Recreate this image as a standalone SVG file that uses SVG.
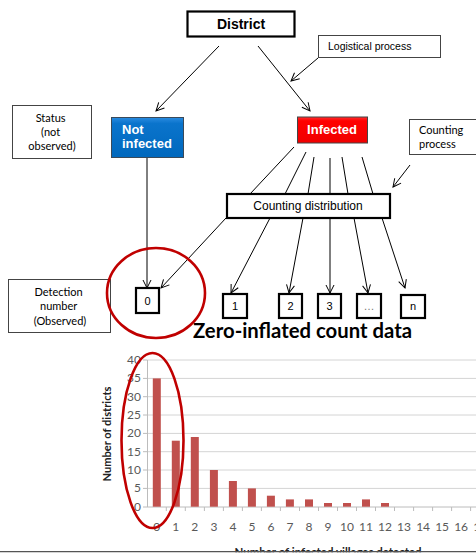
<svg xmlns="http://www.w3.org/2000/svg" width="476" height="553" viewBox="0 0 476 553">
  <style>
    .box { fill: #fff; stroke: #000; stroke-width: 2.2; }
    .note { fill: #fff; stroke: #444; stroke-width: 1; }
    .sans { font-family: "Liberation Sans", Arial, sans-serif; }
    .cal { font-family: Lato, "Liberation Sans", sans-serif; }
    .lbl { font-size: 11px; fill: #000; }
    .link { stroke: #000; stroke-width: 1; fill: none; }
    .grid { stroke: #d4d4d4; stroke-width: 1; }
    .axis { stroke: #bcbcbc; stroke-width: 1; }
    .bar { fill: #c0504d; }
    .tick { font-size: 12px; fill: #595959; }
    .ring { fill: none; stroke: #c00000; stroke-width: 2.6; }
  </style>
  <defs>
    <marker id="open" markerUnits="userSpaceOnUse" markerWidth="10" markerHeight="10" refX="9" refY="5" orient="auto">
      <path d="M1,1 L9,5 L1,9" fill="none" stroke="#000" stroke-width="1"/>
    </marker>
    <linearGradient id="blueFill" x1="0" y1="0" x2="0" y2="1">
      <stop offset="0" stop-color="#2a8be0"/>
      <stop offset="0.15" stop-color="#0a74cc"/>
      <stop offset="1" stop-color="#0068bd"/>
    </linearGradient>
    <linearGradient id="redFill" x1="0" y1="0" x2="0" y2="1">
      <stop offset="0" stop-color="#ff3030"/>
      <stop offset="0.15" stop-color="#ff0000"/>
      <stop offset="1" stop-color="#f00000"/>
    </linearGradient>
  </defs>

  <rect width="476" height="553" fill="#fff"/>

  <!-- connectors -->
  <g id="connectors">
    <line class="link" x1="219" y1="46" x2="156" y2="111" marker-end="url(#open)"/>
    <line class="link" x1="258" y1="46" x2="310" y2="111" marker-end="url(#open)"/>
    <line class="link" x1="318" y1="58" x2="291" y2="81" marker-end="url(#open)"/>
    <line class="link" x1="147" y1="150" x2="147" y2="288" marker-end="url(#open)"/>
    <!-- fan from Infected into the counting distribution -->
    <line class="link" x1="294" y1="147" x2="250" y2="194"/>
    <line class="link" x1="306" y1="152" x2="285" y2="194"/>
    <line class="link" x1="314" y1="157" x2="308" y2="194"/>
    <line class="link" x1="330" y1="158" x2="330" y2="194" stroke="#555"/>
    <line class="link" x1="342" y1="157" x2="348" y2="194"/>
    <line class="link" x1="362" y1="157" x2="373" y2="194"/>
    <line class="link" x1="410" y1="165" x2="393" y2="187" marker-end="url(#open)"/>
    <!-- counting distribution outcomes -->
    <line class="link" x1="226" y1="218" x2="161" y2="288" marker-end="url(#open)"/>
    <line class="link" x1="270" y1="218" x2="231" y2="293" marker-end="url(#open)"/>
    <line class="link" x1="303" y1="218" x2="289" y2="293" marker-end="url(#open)"/>
    <line class="link" x1="330" y1="218" x2="330" y2="293" stroke="#555" marker-end="url(#open)"/>
    <line class="link" x1="354" y1="218" x2="368" y2="293" marker-end="url(#open)"/>
    <line class="link" x1="382" y1="218" x2="405" y2="288" marker-end="url(#open)"/>
  </g>

  <g id="district">
    <rect class="box" x="187.5" y="11.5" width="107" height="25" stroke-width="2.6"/>
    <text class="sans" x="241" y="29" font-size="14" font-weight="bold" text-anchor="middle">District</text>
  </g>

  <g id="logistical">
    <rect class="note" x="318.5" y="35.5" width="122" height="22"/>
    <text class="sans" x="328" y="50" font-size="10.5">Logistical process</text>
  </g>

  <g id="status">
    <rect class="note" x="12.5" y="105.5" width="79" height="53"/>
    <text class="cal lbl" text-anchor="middle">
      <tspan x="52" y="122">Status</tspan>
      <tspan x="52" y="136">(not</tspan>
      <tspan x="52" y="150">observed)</tspan>
    </text>
  </g>

  <g id="not-infected">
    <rect x="111.5" y="117.5" width="72" height="40" fill="url(#blueFill)" stroke="#3a4a5a" stroke-width="1"/>
    <text class="sans" font-size="13" font-weight="bold" fill="#fff">
      <tspan x="122" y="134">Not</tspan>
      <tspan x="122" y="148">infected</tspan>
    </text>
  </g>

  <g id="infected">
    <rect x="297.5" y="117" width="70" height="26" fill="url(#redFill)" stroke="#444" stroke-width="1"/>
    <text class="sans" x="332" y="134" font-size="13" font-weight="bold" fill="#fff" text-anchor="middle">Infected</text>
  </g>

  <g id="counting-process">
    <rect class="note" x="409.5" y="119.5" width="70" height="35"/>
    <text class="cal lbl">
      <tspan x="419" y="134">Counting</tspan>
      <tspan x="419" y="148">process</tspan>
    </text>
  </g>

  <g id="counting-distribution">
    <rect class="box" x="227" y="194" width="163" height="24"/>
    <text class="sans" x="308" y="210" font-size="12" text-anchor="middle">Counting distribution</text>
  </g>

  <g id="detection">
    <rect class="note" x="8.5" y="279.5" width="102" height="53"/>
    <text class="cal lbl" text-anchor="middle">
      <tspan x="60" y="296">Detection</tspan>
      <tspan x="60" y="310">number</tspan>
      <tspan x="60" y="325">(Observed)</tspan>
    </text>
  </g>

  <g id="count-0">
    <rect class="box" x="136" y="288" width="23" height="25"/>
    <text class="sans" x="147.5" y="305" font-size="11" text-anchor="middle">0</text>
  </g>
  <g id="count-1">
    <rect class="box" x="223" y="294" width="24" height="24"/>
    <text class="sans" x="235" y="310" font-size="11" text-anchor="middle">1</text>
  </g>
  <g id="count-2">
    <rect class="box" x="279" y="294" width="23" height="24"/>
    <text class="sans" x="290.5" y="310" font-size="11" text-anchor="middle">2</text>
  </g>
  <g id="count-3">
    <rect class="box" x="318" y="294" width="23" height="24"/>
    <text class="sans" x="329.5" y="310" font-size="11" text-anchor="middle">3</text>
  </g>
  <g id="count-more">
    <rect class="box" x="357" y="294" width="24" height="24"/>
    <text class="sans" x="369" y="310" font-size="11" fill="#777" text-anchor="middle">…</text>
  </g>
  <g id="count-n">
    <rect class="box" x="401" y="295" width="24" height="23"/>
    <text class="sans" x="413" y="310" font-size="11" text-anchor="middle">n</text>
  </g>

  <ellipse class="ring" cx="156" cy="293" rx="49" ry="45"/>

  <text class="cal" x="193" y="338" font-size="20" font-weight="bold" textLength="219" lengthAdjust="spacingAndGlyphs">Zero-inflated count data</text>

  <!-- bar chart -->
  <g id="chart">
    <g>
      <line class="grid" x1="147" y1="360" x2="476" y2="360"/>
      <line class="grid" x1="147" y1="378.4" x2="476" y2="378.4"/>
      <line class="grid" x1="147" y1="396.7" x2="476" y2="396.7"/>
      <line class="grid" x1="147" y1="415" x2="476" y2="415"/>
      <line class="grid" x1="147" y1="433.4" x2="476" y2="433.4"/>
      <line class="grid" x1="147" y1="451.7" x2="476" y2="451.7"/>
      <line class="grid" x1="147" y1="470" x2="476" y2="470"/>
      <line class="grid" x1="147" y1="488.4" x2="476" y2="488.4"/>
    </g>
    <g>
      <line class="axis" x1="147.5" y1="360" x2="147.5" y2="507"/>
      <line class="axis" x1="147" y1="507" x2="476" y2="507"/>
      <line class="axis" x1="143" y1="360" x2="147" y2="360"/>
      <line class="axis" x1="143" y1="378.4" x2="147" y2="378.4"/>
      <line class="axis" x1="143" y1="396.7" x2="147" y2="396.7"/>
      <line class="axis" x1="143" y1="415" x2="147" y2="415"/>
      <line class="axis" x1="143" y1="433.4" x2="147" y2="433.4"/>
      <line class="axis" x1="143" y1="451.7" x2="147" y2="451.7"/>
      <line class="axis" x1="143" y1="470" x2="147" y2="470"/>
      <line class="axis" x1="143" y1="488.4" x2="147" y2="488.4"/>
      <line class="axis" x1="143" y1="507" x2="147" y2="507"/>
      <path class="axis" d="M166.3,507v4M185.3,507v4M204.4,507v4M223.4,507v4M242.4,507v4M261.4,507v4M280.4,507v4M299.5,507v4M318.5,507v4M337.5,507v4M356.5,507v4M375.5,507v4M394.5,507v4M413.6,507v4M432.6,507v4M451.6,507v4M470.6,507v4"/>
    </g>
    <g>
      <rect class="bar" x="152.8" y="378.4" width="8" height="128.3"/>
      <rect class="bar" x="171.8" y="440.7" width="8" height="66"/>
      <rect class="bar" x="190.8" y="437" width="8" height="69.7"/>
      <rect class="bar" x="209.9" y="470" width="8" height="36.7"/>
      <rect class="bar" x="228.9" y="481" width="8" height="25.7"/>
      <rect class="bar" x="247.9" y="488.4" width="8" height="18.3"/>
      <rect class="bar" x="266.9" y="495.7" width="8" height="11"/>
      <rect class="bar" x="285.9" y="499.4" width="8" height="7.3"/>
      <rect class="bar" x="305" y="499.4" width="8" height="7.3"/>
      <rect class="bar" x="324" y="503" width="8" height="3.7"/>
      <rect class="bar" x="343" y="503" width="8" height="3.7"/>
      <rect class="bar" x="362" y="499.4" width="8" height="7.3"/>
      <rect class="bar" x="381" y="503" width="8" height="3.7"/>
    </g>
    <g class="cal tick" text-anchor="end">
      <text x="141" y="364">40</text>
      <text x="141" y="382.4">35</text>
      <text x="141" y="400.7">30</text>
      <text x="141" y="419">25</text>
      <text x="141" y="437.4">20</text>
      <text x="141" y="455.7">15</text>
      <text x="141" y="474">10</text>
      <text x="141" y="492.4">5</text>
      <text x="141" y="511">0</text>
    </g>
    <g class="cal tick" text-anchor="middle">
      <text x="156.8" y="531">0</text>
      <text x="175.8" y="531">1</text>
      <text x="194.8" y="531">2</text>
      <text x="213.9" y="531">3</text>
      <text x="232.9" y="531">4</text>
      <text x="251.9" y="531">5</text>
      <text x="270.9" y="531">6</text>
      <text x="289.9" y="531">7</text>
      <text x="309" y="531">8</text>
      <text x="328" y="531">9</text>
      <text x="347" y="531">10</text>
      <text x="366" y="531">11</text>
      <text x="385" y="531">12</text>
      <text x="404" y="531">13</text>
      <text x="423.1" y="531">14</text>
      <text x="442.1" y="531">15</text>
      <text x="461.1" y="531">16</text>
      <text x="480.1" y="531">17</text>
    </g>
    <text class="cal" transform="translate(111,434) rotate(-90)" font-size="12" font-weight="bold" fill="#222" text-anchor="middle" textLength="95" lengthAdjust="spacingAndGlyphs">Number of districts</text>
    <text class="cal" x="328" y="556" font-size="12" font-weight="bold" fill="#222" text-anchor="middle" textLength="187" lengthAdjust="spacingAndGlyphs">Number of infected villages detected</text>
    <ellipse class="ring" cx="152.5" cy="440.5" rx="31" ry="87.5"/>
  </g>

  <rect x="0" y="552.3" width="476" height="1" fill="#fff"/>
  <line x1="0" y1="551.7" x2="476" y2="551.7" stroke="#555" stroke-width="1.3"/>
</svg>
